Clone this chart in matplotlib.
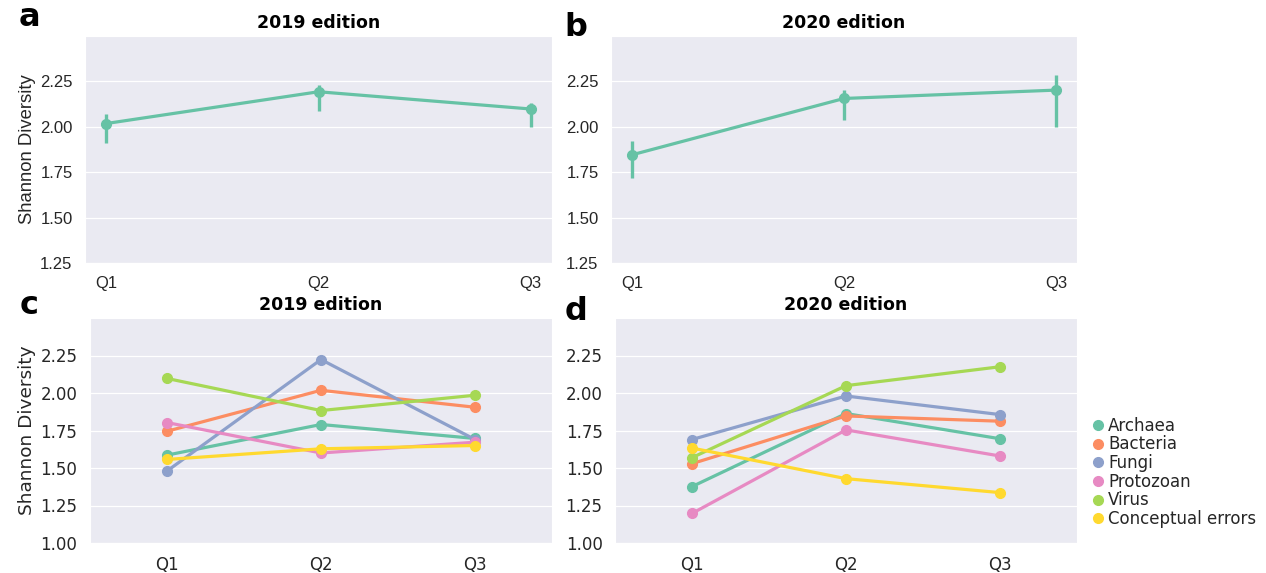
import numpy as np
import matplotlib
matplotlib.use("Agg")
import matplotlib.pyplot as plt
import seaborn as sns
from matplotlib.lines import Line2D

sns.set_style("darkgrid")

quarters = ["Q1", "Q2", "Q3"]

# top panels: mean shannon diversity with error range
mean_2019 = [2.018, 2.193, 2.098]
low_2019 = [1.912, 2.085, 1.998]
high_2019 = [2.071, 2.231, 2.129]

mean_2020 = [1.846, 2.156, 2.202]
low_2020 = [1.720, 2.040, 2.000]
high_2020 = [1.924, 2.202, 2.283]

# bottom panels: per category
categories = ["Archaea", "Bacteria", "Fungi", "Protozoan", "Virus", "Conceptual errors"]
cat_2019 = {
    "Archaea": [1.586, 1.790, 1.697],
    "Bacteria": [1.745, 2.018, 1.905],
    "Fungi": [1.480, 2.223, 1.690],
    "Protozoan": [1.803, 1.600, 1.672],
    "Virus": [2.097, 1.883, 1.985],
    "Conceptual errors": [1.557, 1.628, 1.650],
}
cat_2020 = {
    "Archaea": [1.376, 1.863, 1.695],
    "Bacteria": [1.529, 1.847, 1.812],
    "Fungi": [1.690, 1.980, 1.856],
    "Protozoan": [1.197, 1.754, 1.580],
    "Virus": [1.569, 2.049, 2.175],
    "Conceptual errors": [1.633, 1.429, 1.336],
}
colors = ["#66c2a5", "#fc8d62", "#8da0cb", "#e78ac3", "#a6d854", "#ffd92f"]

W, H = 1266, 573
fig = plt.figure(figsize=(W / 100, H / 100), dpi=100)


def px_axes(left, top, right, bottom):
    return fig.add_axes([left / W, 1 - bottom / H, (right - left) / W, (bottom - top) / H])


x = np.arange(3)


def top_panel(ax, mean, low, high, title, ylabel):
    ax.vlines(x, low, high, color=colors[0], lw=2.4, zorder=3)
    ax.plot(x, mean, color=colors[0], lw=2.3, marker="o", ms=7, zorder=4)
    ax.set_xlim(-0.1, 2.1)
    ax.set_ylim(1.25, 2.5)
    ax.set_yticks([1.25, 1.5, 1.75, 2.0, 2.25])
    ax.set_yticklabels(["1.25", "1.50", "1.75", "2.00", "2.25"])
    ax.set_xticks(x)
    ax.set_xticklabels(quarters)
    ax.grid(axis="x", visible=False)
    ax.grid(axis="y", color="white", lw=0.9)
    ax.tick_params(length=0, labelsize=12, pad=9, colors="#262626")
    for lab in ax.get_xticklabels() + ax.get_yticklabels():
        lab.set_family("Liberation Sans")
    ax.set_title(title, fontsize=12.5, fontweight="bold", pad=6, color="black")
    if ylabel:
        ax.set_ylabel("Shannon Diversity", fontsize=13.3, family="Liberation Sans",
                      color="#262626", labelpad=3)


def bottom_panel(ax, data, title, ylabel):
    for name, c in zip(categories, colors):
        ax.plot(x, data[name], color=c, lw=2.3, marker="o", ms=7)
    ax.set_xlim(-0.5, 2.5)
    ax.set_ylim(1.0, 2.5)
    ax.set_yticks([1.0, 1.25, 1.5, 1.75, 2.0, 2.25])
    ax.set_yticklabels(["1.00", "1.25", "1.50", "1.75", "2.00", "2.25"])
    ax.set_xticks(x)
    ax.set_xticklabels(quarters)
    ax.grid(axis="x", visible=False)
    ax.grid(axis="y", color="white", lw=0.9)
    ax.tick_params(length=0, labelsize=12, pad=9, colors="#262626")
    ax.set_title(title, fontsize=12.5, fontweight="bold", pad=6, color="black")
    if ylabel:
        ax.set_ylabel("Shannon Diversity", fontsize=13.3, color="#262626", labelpad=3)


ax_a = px_axes(85, 36, 552, 263)
ax_b = px_axes(611, 36, 1077, 263)
ax_c = px_axes(90, 318, 552, 543)
ax_d = px_axes(615, 318, 1077, 543)

top_panel(ax_a, mean_2019, low_2019, high_2019, "2019 edition", True)
top_panel(ax_b, mean_2020, low_2020, high_2020, "2020 edition", False)
bottom_panel(ax_c, cat_2019, "2019 edition", True)
bottom_panel(ax_d, cat_2020, "2020 edition", False)

for lab, (px, py) in zip("abcd", [(29, 17), (576, 28), (29, 305), (576, 311)]):
    fig.text(px / W, 1 - py / H, lab, fontsize=23, fontweight="bold", color="black",
             ha="center", va="center")

handles = [Line2D([], [], color=c, marker="o", ls="none", ms=7) for c in colors]
fig.legend(handles, categories, loc="upper left", bbox_to_anchor=(1083 / W, 1 - 410 / H),
           frameon=False, fontsize=12, handletextpad=0.1, labelspacing=0.04,
           borderaxespad=0, handlelength=1.0)

fig.savefig("out.png", dpi=100)
